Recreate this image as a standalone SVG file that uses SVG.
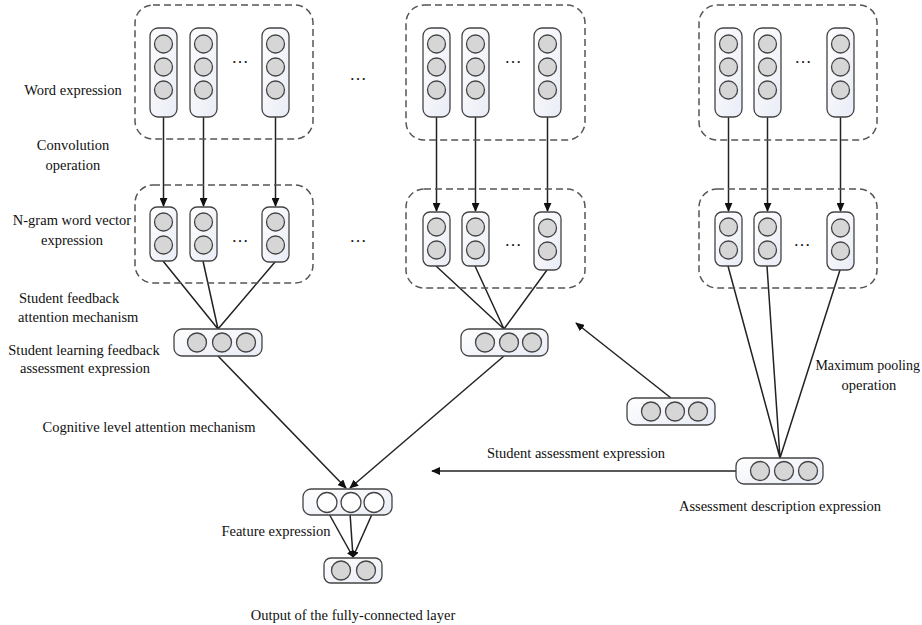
<svg xmlns="http://www.w3.org/2000/svg" width="922" height="625" viewBox="0 0 922 625">
<style>
text{font-family:"Liberation Serif","Times New Roman",serif;font-size:14.5px;fill:#111}
.c{text-anchor:middle}
.dash{fill:none;stroke:#555;stroke-width:1.5;stroke-dasharray:7 4}
.col{fill:url(#g);stroke:#444;stroke-width:1.3}
.ci{fill:#d6d6d6;stroke:#444;stroke-width:1.3}
.cw{fill:#fff;stroke:#444;stroke-width:1.3}
.ln{stroke:#222;stroke-width:1.5;fill:none}
.dots{font-size:17px;text-anchor:middle}
</style>
<defs>
<linearGradient id="g" x1="0" y1="0" x2="1" y2="1">
<stop offset="0" stop-color="#ffffff"/>
<stop offset="1" stop-color="#e9ecf6"/>
</linearGradient>
<marker id="ah" viewBox="0 0 10 10" refX="9" refY="5" markerWidth="9" markerHeight="8" orient="auto" markerUnits="userSpaceOnUse" preserveAspectRatio="none">
<path d="M0,0 L10,5 L0,10 z" fill="#111"/>
</marker>
<marker id="ahs" viewBox="0 0 10 10" refX="9" refY="5" markerWidth="7" markerHeight="7" orient="auto" markerUnits="userSpaceOnUse">
<path d="M0,0 L10,5 L0,10 z" fill="#111"/>
</marker>
</defs>
<rect width="922" height="625" fill="#fff"/>

<g id="connectors">
<line class="ln" x1="163.5" y1="117" x2="163.5" y2="206" marker-end="url(#ah)"/>
<line class="ln" x1="203.5" y1="117" x2="203.5" y2="206" marker-end="url(#ah)"/>
<line class="ln" x1="275.5" y1="117" x2="275.5" y2="206" marker-end="url(#ah)"/>
<line class="ln" x1="436.5" y1="117" x2="436.5" y2="211" marker-end="url(#ah)"/>
<line class="ln" x1="475.5" y1="117" x2="475.5" y2="211" marker-end="url(#ah)"/>
<line class="ln" x1="547.5" y1="117" x2="547.5" y2="211" marker-end="url(#ah)"/>
<line class="ln" x1="728.5" y1="117" x2="728.5" y2="211" marker-end="url(#ah)"/>
<line class="ln" x1="767.5" y1="117" x2="767.5" y2="211" marker-end="url(#ah)"/>
<line class="ln" x1="840.5" y1="117" x2="840.5" y2="211" marker-end="url(#ah)"/>
<path class="ln" d="M163,261 L218,329 M203,261 L218,329 M275,262 L218,329"/>
<path class="ln" d="M436,266 L504,329 M475,266 L504,329 M547,270 L504,329"/>
<path class="ln" d="M728,266 L780,458 M767,266 L780,458 M840,270 L780,458"/>
<line class="ln" x1="218" y1="356" x2="346" y2="488" marker-end="url(#ah)"/>
<line class="ln" x1="504" y1="356" x2="350" y2="488" marker-end="url(#ah)"/>
<line class="ln" x1="737" y1="471" x2="432" y2="471" marker-end="url(#ah)"/>
<line class="ln" x1="671" y1="398" x2="576" y2="323" marker-end="url(#ah)"/>
<line class="ln" x1="328" y1="512" x2="353" y2="557" marker-end="url(#ahs)"/>
<line class="ln" x1="350" y1="513" x2="353" y2="557" marker-end="url(#ahs)"/>
<line class="ln" x1="373" y1="512" x2="353" y2="557" marker-end="url(#ahs)"/>
</g>

<g id="word-left">
<rect class="dash" x="135" y="5" width="178" height="134" rx="18"/>
<rect class="col" x="150" y="28" width="27" height="89" rx="8"/>
<circle class="ci" cx="163.5" cy="44" r="9"/><circle class="ci" cx="163.5" cy="67" r="9"/><circle class="ci" cx="163.5" cy="90" r="9"/>
<rect class="col" x="190" y="28" width="27" height="89" rx="8"/>
<circle class="ci" cx="203.5" cy="44" r="9"/><circle class="ci" cx="203.5" cy="67" r="9"/><circle class="ci" cx="203.5" cy="90" r="9"/>
<rect class="col" x="262" y="28" width="27" height="89" rx="8"/>
<circle class="ci" cx="275.5" cy="44" r="9"/><circle class="ci" cx="275.5" cy="67" r="9"/><circle class="ci" cx="275.5" cy="90" r="9"/>
<text class="dots" x="240" y="63">…</text>
</g>

<g id="word-mid">
<rect class="dash" x="406" y="5" width="179" height="135" rx="18"/>
<rect class="col" x="423" y="28" width="27" height="89" rx="8"/>
<circle class="ci" cx="436.5" cy="44" r="9"/><circle class="ci" cx="436.5" cy="67" r="9"/><circle class="ci" cx="436.5" cy="90" r="9"/>
<rect class="col" x="462" y="28" width="27" height="89" rx="8"/>
<circle class="ci" cx="475.5" cy="44" r="9"/><circle class="ci" cx="475.5" cy="67" r="9"/><circle class="ci" cx="475.5" cy="90" r="9"/>
<rect class="col" x="534" y="28" width="27" height="89" rx="8"/>
<circle class="ci" cx="547.5" cy="44" r="9"/><circle class="ci" cx="547.5" cy="67" r="9"/><circle class="ci" cx="547.5" cy="90" r="9"/>
<text class="dots" x="513" y="63">…</text>
</g>

<g id="word-right">
<rect class="dash" x="699" y="5" width="178" height="135" rx="18"/>
<rect class="col" x="715" y="28" width="27" height="89" rx="8"/>
<circle class="ci" cx="728.5" cy="44" r="9"/><circle class="ci" cx="728.5" cy="67" r="9"/><circle class="ci" cx="728.5" cy="90" r="9"/>
<rect class="col" x="754" y="28" width="27" height="89" rx="8"/>
<circle class="ci" cx="767.5" cy="44" r="9"/><circle class="ci" cx="767.5" cy="67" r="9"/><circle class="ci" cx="767.5" cy="90" r="9"/>
<rect class="col" x="827" y="28" width="27" height="89" rx="8"/>
<circle class="ci" cx="840.5" cy="44" r="9"/><circle class="ci" cx="840.5" cy="67" r="9"/><circle class="ci" cx="840.5" cy="90" r="9"/>
<text class="dots" x="803" y="63">…</text>
</g>

<g id="ngram-left">
<rect class="dash" x="135" y="185" width="178" height="98" rx="18"/>
<rect class="col" x="150" y="207" width="27" height="54" rx="7"/>
<circle class="ci" cx="163.5" cy="222" r="9"/><circle class="ci" cx="163.5" cy="245" r="9"/>
<rect class="col" x="190" y="207" width="27" height="54" rx="7"/>
<circle class="ci" cx="203.5" cy="222" r="9"/><circle class="ci" cx="203.5" cy="245" r="9"/>
<rect class="col" x="262" y="207" width="27" height="55" rx="7"/>
<circle class="ci" cx="275.5" cy="222" r="9"/><circle class="ci" cx="275.5" cy="245" r="9"/>
<text class="dots" x="240" y="242">…</text>
</g>

<g id="ngram-mid">
<rect class="dash" x="406" y="189" width="179" height="99" rx="18"/>
<rect class="col" x="423" y="212" width="27" height="54" rx="7"/>
<circle class="ci" cx="436.5" cy="227" r="9"/><circle class="ci" cx="436.5" cy="250" r="9"/>
<rect class="col" x="462" y="212" width="27" height="54" rx="7"/>
<circle class="ci" cx="475.5" cy="227" r="9"/><circle class="ci" cx="475.5" cy="250" r="9"/>
<rect class="col" x="534" y="212" width="27" height="58" rx="7"/>
<circle class="ci" cx="547.5" cy="228" r="9"/><circle class="ci" cx="547.5" cy="251" r="9"/>
<text class="dots" x="513" y="246">…</text>
</g>

<g id="ngram-right">
<rect class="dash" x="699" y="189" width="178" height="99" rx="18"/>
<rect class="col" x="715" y="212" width="27" height="54" rx="7"/>
<circle class="ci" cx="728.5" cy="227" r="9"/><circle class="ci" cx="728.5" cy="250" r="9"/>
<rect class="col" x="754" y="212" width="27" height="54" rx="7"/>
<circle class="ci" cx="767.5" cy="227" r="9"/><circle class="ci" cx="767.5" cy="250" r="9"/>
<rect class="col" x="827" y="212" width="27" height="58" rx="7"/>
<circle class="ci" cx="840.5" cy="228" r="9"/><circle class="ci" cx="840.5" cy="251" r="9"/>
<text class="dots" x="802" y="246">…</text>
</g>

<g id="feedback-left">
<rect class="col" x="174" y="329" width="88" height="27" rx="8"/>
<circle class="ci" cx="197" cy="342.5" r="9.5"/><circle class="ci" cx="222" cy="342.5" r="9.5"/><circle class="ci" cx="246" cy="342.5" r="9.5"/>
</g>

<g id="feedback-mid">
<rect class="col" x="461" y="329" width="87" height="27" rx="8"/>
<circle class="ci" cx="485" cy="342.5" r="9.5"/><circle class="ci" cx="509" cy="342.5" r="9.5"/><circle class="ci" cx="532" cy="342.5" r="9.5"/>
</g>

<g id="student-assessment">
<rect class="col" x="627" y="398" width="88" height="27" rx="8"/>
<circle class="ci" cx="651" cy="411.5" r="9.5"/><circle class="ci" cx="675" cy="411.5" r="9.5"/><circle class="ci" cx="698" cy="411.5" r="9.5"/>
</g>

<g id="assessment-description">
<rect class="col" x="736" y="458" width="87" height="26" rx="8"/>
<circle class="ci" cx="760" cy="471" r="9.5"/><circle class="ci" cx="784" cy="471" r="9.5"/><circle class="ci" cx="808" cy="471" r="9.5"/>
</g>

<g id="feature">
<rect class="col" x="303" y="489" width="89" height="26" rx="8"/>
<circle class="cw" cx="327" cy="502.5" r="10"/><circle class="cw" cx="351" cy="502.5" r="10"/><circle class="cw" cx="374" cy="502.5" r="10"/>
</g>

<g id="output">
<rect class="col" x="324" y="558" width="58" height="25" rx="7"/>
<circle class="ci" cx="341" cy="570.5" r="9.5"/><circle class="ci" cx="366" cy="570.5" r="9.5"/>
</g>

<g id="labels">
<text class="c" x="73" y="95">Word expression</text>
<text class="c" x="73" y="150">Convolution</text>
<text class="c" x="73" y="170">operation</text>
<text class="c" x="72" y="225">N-gram word vector</text>
<text class="c" x="72" y="245">expression</text>
<text x="19" y="303">Student feedback</text>
<text x="18" y="322">attention mechanism</text>
<text class="c" x="84" y="355">Student learning feedback</text>
<text class="c" x="85" y="373">assessment expression</text>
<text class="c" x="149" y="432">Cognitive level attention mechanism</text>
<text class="c" x="276" y="536">Feature expression</text>
<text class="c" x="353" y="620">Output of the fully-connected layer</text>
<text class="c" x="576" y="458">Student assessment expression</text>
<text class="c" x="780" y="511">Assessment description expression</text>
<text x="920" y="370" style="text-anchor:end;font-size:14px">Maximum pooling</text>
<text class="c" x="869" y="390">operation</text>
<text class="dots" x="358" y="80">…</text>
<text class="dots" x="358" y="242">…</text>
</g>
</svg>
